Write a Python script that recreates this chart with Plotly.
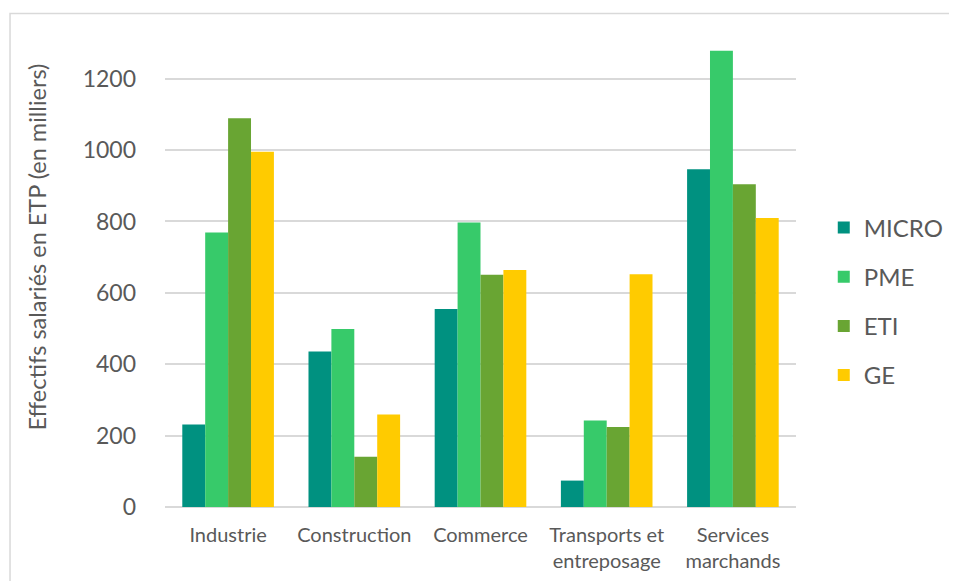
import plotly.graph_objects as go

# Effectifs salariés en ETP (en milliers) par secteur et catégorie d'entreprise
secteurs = ["Industrie", "Construction", "Commerce", "Transports et<br>entreposage", "Services<br>marchands"]
micro = [231, 436, 555, 74, 946]
pme = [769, 499, 797, 242, 1278]
eti = [1089, 141, 651, 224, 904]
ge = [995, 259, 664, 652, 810]

series = [
    ("MICRO", micro, "#009180"),
    ("PME", pme, "#37CA6A"),
    ("ETI", eti, "#69A533"),
    ("GE", ge, "#FFCB00"),
]

fig = go.Figure()
for name, vals, color in series:
    fig.add_trace(go.Bar(
        x=secteurs, y=vals, name=name, legendgroup=name,
        marker=dict(color=color, line=dict(width=0)),
    ))

grid = "#D9D9D9"
txt = "#595959"

fig.update_layout(
    width=957, height=581,
    margin=dict(l=157, r=169, t=35, b=82),
    paper_bgcolor="white", plot_bgcolor="white",
    font=dict(family="Lato, Open Sans, sans-serif", color=txt),
    barmode="group", bargap=0.274, bargroupgap=0,
    legend=dict(
        x=1.044, xanchor="left", y=0.65, yanchor="top",
        font=dict(size=24, color=txt),
        tracegroupgap=15, traceorder="grouped",
    ),
    shapes=[dict(
        type="rect", xref="paper", yref="paper",
        x0=-0.2456, x1=1.29, y0=-0.25, y1=1.0636,
        line=dict(color=grid, width=1.5), fillcolor="rgba(0,0,0,0)", layer="below",
    )],
    # titre de l'axe Y placé à la main (décalé vers le haut comme dans Excel)
    annotations=[dict(
        text="Effectifs salariés en ETP (en milliers)", textangle=-90,
        xref="paper", yref="paper", x=-0.2029, y=0.5614,
        xanchor="center", yanchor="middle", showarrow=False,
        font=dict(size=23.5, color=txt),
    )],
)

fig.update_xaxes(
    type="category",
    showgrid=False, showline=False, ticks="",
    tickfont=dict(size=20, color=txt), ticklabelstandoff=14,
)
fig.update_yaxes(
    range=[0, 1300], tickvals=[0, 200, 400, 600, 800, 1000, 1200],
    showgrid=True, gridcolor=grid, gridwidth=1.5,
    zeroline=True, zerolinecolor=grid, zerolinewidth=1.5,
    showline=False, ticks="", ticklabelstandoff=28,
    tickfont=dict(size=23, color=txt),
)

fig.write_html("out.html")
